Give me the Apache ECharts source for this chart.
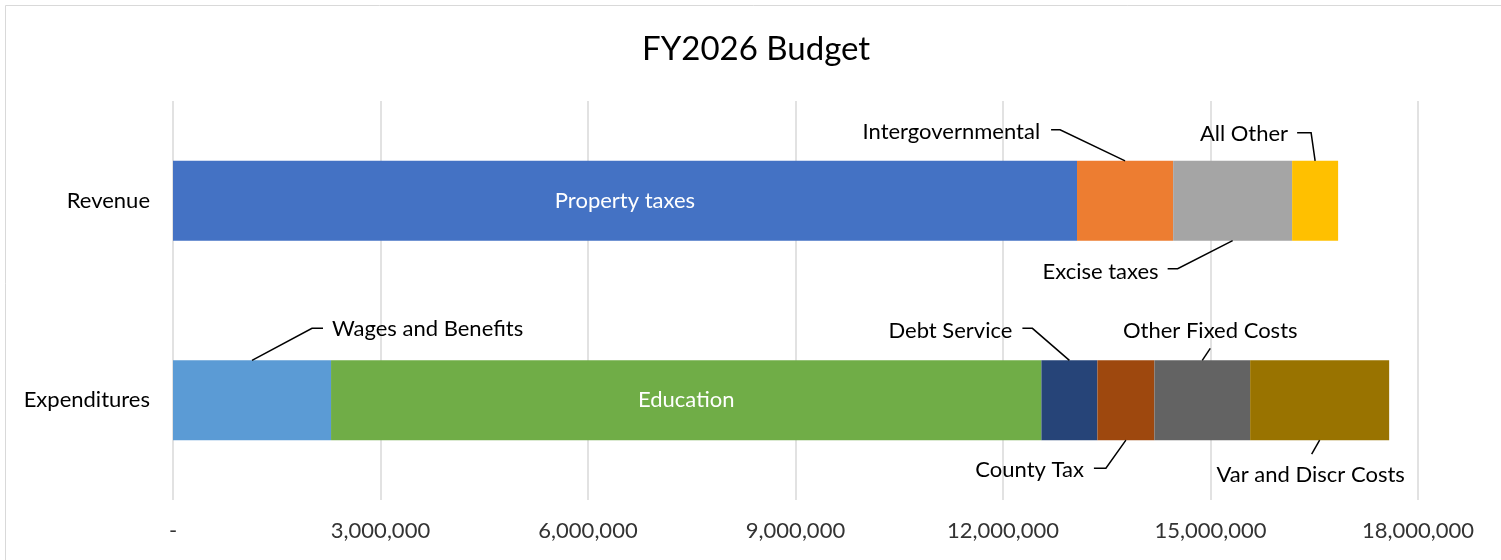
<!DOCTYPE html>
<html>
<head>
<meta charset="utf-8">
<script src="https://cdn.jsdelivr.net/npm/echarts@6/dist/echarts.min.js"></script>
<style>
  html, body { margin: 0; padding: 0; background: #fff; }
  #chart { width: 1501px; height: 560px; }
</style>
</head>
<body>
<div id="chart"></div>
<script>
// ---- data ----
const categories = ['Revenue', 'Expenditures'];
const revenueNames = ['Property taxes', 'Intergovernmental', 'Excise taxes', 'All Other'];
const revenueValues = [13070000, 1390000, 1720000, 665000];
const expenditureNames = ['Wages and Benefits', 'Education', 'Debt Service', 'County Tax', 'Other Fixed Costs', 'Var and Discr Costs'];
const expenditureValues = [2285000, 10270000, 810000, 824000, 1384000, 2010000];
const xTicks = [0, 3000000, 6000000, 9000000, 12000000, 15000000, 18000000];

// ---- styling ----
const revenueColors = ['#4472C4', '#ED7D31', '#A5A5A5', '#FFC000'];
const expenditureColors = ['#5B9BD5', '#70AD47', '#264478', '#9E480E', '#636363', '#997300'];
const FONT = 'Lato, "Open Sans", sans-serif';
const insideLabels = ['Property taxes', 'Education'];
// callout placement (pixel offsets relative to the bar-segment edge centre)
const callouts = {
  'Intergovernmental': { side: 'top', dx: -85, dy: -29, align: 'right', line: [[-65, -31], [-74, -31]] },
  'All Other': { side: 'top', dx: -27, dy: -27, align: 'right', line: [[-4, -28], [-18, -28]] },
  'Excise taxes': { side: 'bottom', dx: -74, dy: 31, align: 'right', line: [[-55, 28], [-65, 28]] },
  'Wages and Benefits': { side: 'top', dx: 80, dy: -31, align: 'left', line: [[60, -32], [71, -32]] },
  'Debt Service': { side: 'top', dx: -57, dy: -29, align: 'right', line: [[-37, -32], [-47, -32]] },
  'Other Fixed Costs': { side: 'top', dx: 8, dy: -29, align: 'center', line: [[8, -12]] },
  'County Tax': { side: 'bottom', dx: -42, dy: 30, align: 'right', line: [[-20, 28], [-32, 28]] },
  'Var and Discr Costs': { side: 'bottom', dx: -9, dy: 35, align: 'center', line: [[-8, 14]] }
};

const series = [];
const calloutData = [];
const calloutNames = [];
function addGroup(names, values, colors, catIndex) {
  let cum = 0;
  names.forEach((name, i) => {
    const data = categories.map((c, k) => (k === catIndex ? values[i] : '-'));
    series.push({
      name: name,
      type: 'bar',
      stack: 'total',
      barWidth: '40%',
      itemStyle: { color: colors[i] },
      label: insideLabels.includes(name) ? {
        show: true, position: 'inside', formatter: '{a}', color: '#fff',
        fontFamily: FONT, fontSize: 22
      } : { show: false },
      emphasis: { disabled: true },
      data: data
    });
    if (callouts[name]) {
      calloutData.push([cum, cum + values[i], catIndex]);
      calloutNames.push(name);
    }
    cum += values[i];
  });
}
addGroup(revenueNames, revenueValues, revenueColors, 0);
addGroup(expenditureNames, expenditureValues, expenditureColors, 1);

series.push({
  type: 'custom',
  name: 'callouts',
  silent: true,
  z: 10,
  encode: { x: [0, 1], y: 2 },
  data: calloutData,
  renderItem: function (params, api) {
    const start = api.value(0), end = api.value(1), cat = api.value(2);
    const name = calloutNames[params.dataIndex];
    const cfg = callouts[name];
    const c = api.coord([(start + end) / 2, cat]);
    const half = api.size([0, 1])[1] * 0.2;
    const ay = cfg.side === 'top' ? c[1] - half : c[1] + half;
    const pts = [[c[0], ay]].concat(cfg.line.map(p => [c[0] + p[0], ay + p[1]]));
    return {
      type: 'group',
      children: [
        { type: 'polyline', shape: { points: pts }, style: { stroke: '#000', lineWidth: 1.5, fill: null } },
        { type: 'text', x: c[0] + cfg.dx, y: ay + cfg.dy,
          style: { text: name, align: cfg.align, verticalAlign: 'middle', fill: '#000',
                   fontFamily: FONT, fontSize: 22 } }
      ]
    };
  }
});

const chart = echarts.init(document.getElementById('chart'));
chart.setOption({
  animation: false,
  backgroundColor: '#fff',
  title: {
    text: 'FY2026 Budget', left: 637, top: 28,
    textStyle: { fontFamily: FONT, fontSize: 33, fontWeight: 'normal', color: '#000' }
  },
  grid: { left: 173, right: 83, top: 101, bottom: 60 },
  xAxis: {
    type: 'value', min: xTicks[0], max: xTicks[xTicks.length - 1], interval: xTicks[1] - xTicks[0],
    axisLine: { show: false }, axisTick: { show: false },
    splitLine: { show: true, lineStyle: { color: '#d9d9d9', width: 1.5 } },
    axisLabel: {
      margin: 20, color: '#333', fontFamily: FONT, fontSize: 22,
      formatter: v => (v === 0 ? '-' : v.toLocaleString('en-US'))
    }
  },
  yAxis: {
    type: 'category', data: categories, inverse: true,
    axisLine: { show: false }, axisTick: { show: false },
    axisLabel: { margin: 23, color: '#000', fontFamily: FONT, fontSize: 22 }
  },
  graphic: [{
    type: 'rect', left: 3, top: 3, silent: true,
    shape: { width: 1520, height: 580 },
    style: { fill: null, stroke: '#d9d9d9', lineWidth: 1 }
  }],
  series: series
});
</script>
</body>
</html>
